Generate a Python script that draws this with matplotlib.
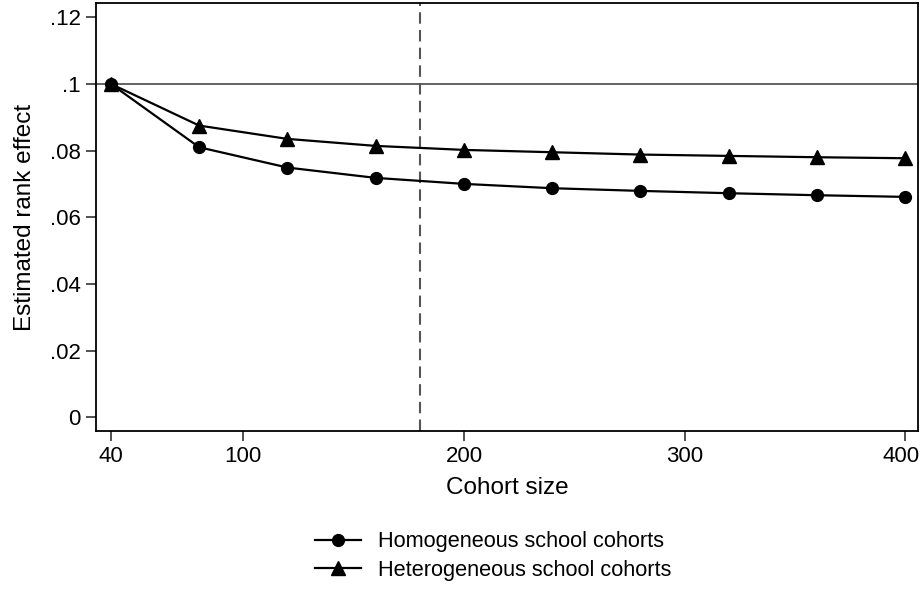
import matplotlib
matplotlib.use("Agg")
import matplotlib.pyplot as plt
import matplotlib.transforms as mtransforms

# Данные
cohort_size = [40, 80, 120, 160, 200, 240, 280, 320, 360, 400]
homogeneous = [0.100, 0.0810, 0.0749, 0.0718, 0.0700, 0.0687, 0.0679,
               0.0672, 0.0666, 0.0661]
heterogeneous = [0.100, 0.0875, 0.0835, 0.0814, 0.0802, 0.0795, 0.0788,
                 0.0784, 0.0780, 0.0777]
x_ticks = [40, 100, 200, 300, 400]
y_ticks = [0, 0.02, 0.04, 0.06, 0.08, 0.10, 0.12]
y_tick_labels = ['0', '.02', '.04', '.06', '.08', '.1', '.12']
reference_effect = 0.1
cutoff = 180

plt.rcParams['font.family'] = ['Liberation Sans', 'DejaVu Sans']

fig = plt.figure(figsize=(9.22, 5.89), dpi=100)
ax = fig.add_axes([0.104, 0.268, 0.892, 0.727])

ax.axhline(reference_effect, color='#555555', linewidth=1.3, zorder=1)
ax.axvline(cutoff, color='#555555', linewidth=1.5,
           linestyle=(0, (5.5, 3)), zorder=1)

ax.plot(cohort_size, homogeneous, color='black', marker='o', markersize=8.5,
        linewidth=1.6, label='Homogeneous school cohorts', zorder=3)
ax.plot(cohort_size, heterogeneous, color='black', marker='^', markersize=9.5,
        linewidth=1.6, label='Heterogeneous school cohorts', zorder=3)

ax.set_xlim(33.2, 405.9)
ax.set_ylim(-0.0042, 0.1243)
ax.set_xticks(x_ticks)
ax.set_yticks(y_ticks)
ax.set_yticklabels(y_tick_labels)
ax.tick_params(axis='both', labelsize=16, length=7, width=1.2,
               direction='out', color='#333333', pad=4)
for spine in ax.spines.values():
    spine.set_linewidth(1.3)
    spine.set_color('black')

# последняя подпись чуть левее, чтобы не обрезалась
last = ax.get_xticklabels()[-1]
last.set_transform(last.get_transform() + mtransforms.ScaledTranslation(
    -4 / 100, 0, fig.dpi_scale_trans))

ax.set_xlabel('Cohort size', fontsize=17.5, labelpad=7)
ax.set_ylabel('Estimated rank effect', fontsize=17.5, labelpad=10)

fig.legend(loc='upper center', bbox_to_anchor=(0.535, 0.098), ncol=1,
           frameon=False, fontsize=15.7, handlelength=2.1, handletextpad=0.8,
           labelspacing=0.35, borderaxespad=0, borderpad=0)

fig.savefig('out.png', dpi=100)
